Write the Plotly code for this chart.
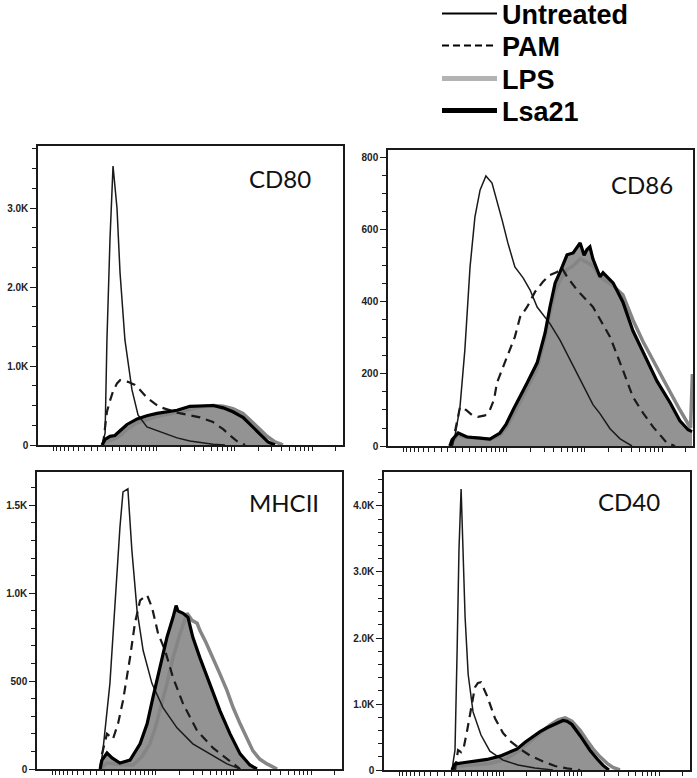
import numpy as np
import plotly.graph_objects as go

# ---------------- data (x in % of the biexponential display scale, y = cell count) -------------
CD80_UNT_X = [21.0, 22.0, 22.6, 23.6, 24.6, 25.9, 26.9, 28.5, 30.8, 32.8, 35.7, 39.0, 42.3, 45.6, 49.8, 53.1, 57.4, 61.3]
CD80_UNT_Y = [0, 150, 1330, 2600, 3530, 3000, 2180, 1330, 700, 380, 230, 180, 130, 90, 50, 30, 10, 0]
CD80_PAM_X = [21.3, 22.0, 22.6, 23.6, 24.6, 25.9, 26.9, 29.5, 31.8, 33.4, 35.7, 38.4, 40.0, 45.6, 49.8, 53.1, 57.4, 60.7, 63.0, 65.2, 67.9]
CD80_PAM_Y = [0, 200, 420, 560, 680, 780, 820, 800, 760, 700, 600, 520, 480, 410, 380, 350, 290, 200, 120, 50, 0]
CD80_LPS_X = [21.0, 22.0, 23.6, 25.2, 26.9, 29.2, 32.5, 35.7, 39.0, 42.3, 45.6, 49.8, 53.1, 57.4, 60.7, 63.9, 67.2, 70.5, 72.8, 75.1, 77.7, 80.3]
CD80_LPS_Y = [0, 40, 60, 80, 120, 200, 280, 320, 360, 390, 410, 450, 480, 500, 490, 460, 400, 280, 190, 110, 40, 0]
CD80_LSA_X = [21.0, 22.0, 23.6, 25.2, 26.9, 29.2, 32.5, 35.7, 39.0, 42.3, 45.6, 49.8, 53.1, 57.4, 60.7, 63.9, 67.2, 69.5, 71.8, 73.8, 75.4, 77.7]
CD80_LSA_Y = [0, 70, 110, 120, 180, 260, 330, 370, 400, 420, 440, 490, 490, 500, 470, 420, 350, 260, 170, 90, 40, 0]

CD86_UNT_X = [21.0, 22.0, 23.6, 25.2, 26.9, 28.5, 30.2, 32.1, 34.1, 35.7, 37.4, 39.3, 41.6, 44.3, 46.6, 48.9, 51.5, 53.1, 56.4, 59.7, 63.0, 67.2, 69.5, 72.8, 76.1, 80.0]
CD86_UNT_Y = [0, 30, 108, 267, 497, 636, 711, 750, 730, 683, 628, 564, 497, 467, 433, 386, 356, 340, 294, 239, 185, 115, 90, 48, 20, 0]
CD86_PAM_X = [21.0, 22.0, 23.6, 25.6, 27.5, 29.5, 31.8, 33.4, 34.8, 35.7, 37.4, 39.0, 41.6, 43.3, 45.6, 48.2, 50.8, 53.1, 55.4, 57.0, 58.7, 62.0, 67.2, 72.8, 77.0, 80.3, 83.6, 86.9, 91.5, 94.1]
CD86_PAM_Y = [0, 40, 108, 100, 86, 81, 85, 100, 130, 175, 215, 247, 303, 358, 386, 428, 456, 475, 483, 495, 470, 433, 386, 303, 211, 136, 92, 53, 8, 0]
CD86_LPS_X = [20.3, 21.0, 23.0, 25.9, 30.2, 33.4, 36.7, 38.7, 41.0, 43.3, 45.6, 48.9, 51.5, 53.1, 54.8, 56.4, 58.7, 60.7, 63.0, 65.2, 67.2, 69.5, 73.8, 77.0, 80.3, 83.6, 88.2, 92.5, 95.7, 98.4, 99.2, 99.8]
CD86_LPS_Y = [0, 10, 30, 24, 21, 18, 30, 50, 85, 125, 160, 215, 300, 370, 430, 460, 490, 500, 520, 510, 500, 470, 445, 420, 350, 290, 215, 150, 100, 60, 50, 200]
CD86_LSA_X = [20.3, 21.0, 23.0, 25.9, 30.2, 33.4, 36.7, 38.7, 41.0, 43.3, 45.6, 48.9, 51.5, 53.1, 54.8, 56.4, 58.7, 60.7, 62.0, 63.0, 64.3, 65.2, 66.2, 67.2, 69.5, 70.5, 73.8, 77.0, 80.3, 83.6, 88.2, 92.5, 95.7, 98.4, 99.7]
CD86_LSA_Y = [0, 17, 36, 25, 22, 19, 36, 60, 100, 140, 175, 231, 314, 386, 453, 483, 531, 536, 550, 564, 530, 545, 553, 519, 470, 481, 453, 400, 320, 260, 180, 120, 70, 45, 40]

MHC_UNT_X = [20.7, 21.6, 23.9, 25.6, 27.2, 28.2, 29.8, 31.1, 32.8, 34.8, 37.7, 41.3, 45.9, 51.1, 56.7, 62.3, 66.6]
MHC_UNT_Y = [0, 103, 486, 960, 1377, 1577, 1594, 1246, 903, 674, 486, 349, 234, 143, 86, 29, 0]
MHC_PAM_X = [20.7, 21.3, 22.95, 24.9, 26.6, 28.2, 30.5, 32.1, 33.8, 36.1, 37.7, 39.7, 42.0, 44.6, 47.9, 52.5, 57.7, 63.3, 66.6]
MHC_PAM_Y = [0, 86, 200, 170, 260, 389, 634, 829, 960, 989, 920, 771, 674, 520, 371, 217, 120, 46, 0]
MHC_LPS_X = [20.7, 22.95, 27.2, 31.5, 34.4, 37.0, 38.7, 40.3, 42.6, 44.6, 46.9, 49.2, 50.8, 52.5, 53.4, 55.4, 57.7, 60.0, 62.3, 64.3, 66.6, 68.9, 70.8, 73.1, 75.4, 78.7]
MHC_LPS_Y = [0, 34, 25, 23, 70, 143, 230, 331, 486, 634, 771, 886, 846, 829, 789, 720, 634, 540, 446, 350, 257, 170, 103, 55, 29, 0]
MHC_LSA_X = [20.7, 21.3, 22.95, 24.6, 27.2, 30.5, 33.8, 36.1, 38.0, 40.3, 42.6, 44.6, 45.6, 46.2, 47.2, 47.9, 49.5, 51.1, 53.4, 56.7, 60.0, 63.3, 66.6, 69.8, 72.1]
MHC_LSA_Y = [0, 51, 91, 63, 34, 51, 143, 257, 406, 577, 749, 863, 930, 900, 890, 886, 863, 749, 634, 486, 331, 200, 86, 23, 0]

CD40_UNT_X = [22.2, 23.2, 23.9, 24.5, 25.2, 25.8, 26.5, 27.5, 29.1, 31.7, 34.6, 38.9, 43.8, 49.3, 55.2]
CD40_UNT_Y = [0, 300, 1818, 3333, 4258, 3333, 2318, 1450, 880, 530, 285, 150, 76, 30, 0]
CD40_PAM_X = [23.2, 24.2, 25.2, 26.1, 27.1, 28.8, 29.7, 30.7, 31.7, 33.7, 36.3, 38.9, 41.2, 44.4, 47.7, 52.0, 55.9, 59.8, 64.1]
CD40_PAM_Y = [0, 300, 270, 350, 580, 1030, 1250, 1320, 1330, 1120, 780, 560, 440, 320, 220, 130, 60, 25, 0]
CD40_LPS_X = [22.2, 24.8, 29.7, 34.6, 37.9, 41.2, 44.4, 47.7, 51.0, 54.2, 56.9, 59.2, 61.4, 64.1, 66.3, 68.3, 70.6, 72.9, 74.8, 77.1]
CD40_LPS_Y = [0, 60, 80, 100, 140, 200, 300, 430, 560, 680, 760, 790, 740, 600, 450, 320, 200, 100, 40, 0]
CD40_LSA_X = [22.2, 23.2, 25.8, 29.7, 33.7, 37.9, 41.2, 43.5, 46.1, 48.4, 51.0, 53.3, 55.9, 58.5, 59.8, 61.4, 64.1, 65.7, 67.3, 69.6, 71.6, 73.5]
CD40_LSA_Y = [0, 90, 110, 130, 160, 210, 270, 320, 420, 500, 580, 640, 700, 750, 740, 690, 520, 400, 300, 170, 70, 0]

MARKERS = ["CD80", "CD86", "MHCII", "CD40"]
SERIES = ["Untreated", "PAM", "LPS", "Lsa21"]
Y_MAX = [3785, 822, 1690, 4515]
Y_TICKS = [[0, 1000, 2000, 3000], [0, 200, 400, 600, 800], [0, 500, 1000, 1500], [0, 1000, 2000, 3000, 4000]]
Y_TICK_TEXT = [["0", "1.0K", "2.0K", "3.0K"], ["0", "200", "400", "600", "800"],
               ["0", "500", "1.0K", "1.5K"], ["0", "1.0K", "2.0K", "3.0K", "4.0K"]]
Y_MINOR = [250, 50, 100, 200]
# biexponential axis tick values (fluorescence intensity)
X_TICK_VALUES = ([-v for v in range(1000, 0, -100)] + [0] + list(range(100, 1000, 100))
                 + list(range(1000, 10000, 1000)) + list(range(10000, 100000, 10000)) + [100000, 200000])

PANEL_DATA = [
    (CD80_UNT_X, CD80_UNT_Y, CD80_PAM_X, CD80_PAM_Y, CD80_LPS_X, CD80_LPS_Y, CD80_LSA_X, CD80_LSA_Y),
    (CD86_UNT_X, CD86_UNT_Y, CD86_PAM_X, CD86_PAM_Y, CD86_LPS_X, CD86_LPS_Y, CD86_LSA_X, CD86_LSA_Y),
    (MHC_UNT_X, MHC_UNT_Y, MHC_PAM_X, MHC_PAM_Y, MHC_LPS_X, MHC_LPS_Y, MHC_LSA_X, MHC_LSA_Y),
    (CD40_UNT_X, CD40_UNT_Y, CD40_PAM_X, CD40_PAM_Y, CD40_LPS_X, CD40_LPS_Y, CD40_LSA_X, CD40_LSA_Y),
]


# biexponential-like display transform (value -> % of axis)
def biex(v):
    zero, lin_end, decade, c = 22.0, 39.0, 25.5, 500.0
    if abs(v) <= 1000:
        return zero + np.sign(v) * (lin_end - zero) * np.arcsinh(abs(v) / c) / np.arcsinh(1000 / c)
    return lin_end + (np.log10(v) - 3) * decade


X_TICK_POS = [float(biex(v)) for v in X_TICK_VALUES]

W, H = 697, 778
# panel boxes in pixels: left, right, top, bottom
BOXES = [(38, 343, 146, 445), (388, 693, 150, 446), (37, 342, 472, 769), (384, 690, 472, 770)]
LABEL_POS = [(313, 178), (675, 185), (321, 502), (662, 501)]
LEGEND_ROWS = [14, 46, 79, 111]

FILL = "#939393"
LPS_COL = "#858585"
INK = "#1a1a1a"

fig = go.Figure()
layout = dict(width=W, height=H, margin=dict(l=0, r=0, t=0, b=0, autoexpand=False),
              paper_bgcolor="white", plot_bgcolor="white", showlegend=True)
annotations = []

for i, (ux, uy, px_, py_, lx, ly, sx, sy) in enumerate(PANEL_DATA):
    n = "" if i == 0 else str(i + 1)
    xa, ya = "x" + n, "y" + n
    common = dict(xaxis=xa, yaxis=ya, mode="lines", showlegend=False, hoverinfo="skip")
    fig.add_trace(go.Scatter(x=sx, y=sy, fill="tozeroy", fillcolor=FILL, line=dict(width=0, color=FILL), **common))
    fig.add_trace(go.Scatter(x=lx, y=ly, line=dict(color=LPS_COL, width=3.5), **common))
    fig.add_trace(go.Scatter(x=ux, y=uy, line=dict(color=INK, width=1.5), **common))
    fig.add_trace(go.Scatter(x=px_, y=py_, line=dict(color=INK, width=2.2, dash="9px,6px"), **common))
    fig.add_trace(go.Scatter(x=sx, y=sy, line=dict(color="black", width=3.2), **common))

    l, r, t, b = BOXES[i]
    layout["xaxis" + n] = dict(domain=[l / W, r / W], range=[0, 100], anchor=ya, automargin=False,
                               showgrid=False, zeroline=False, showline=True, mirror=True,
                               linecolor=INK, linewidth=1.5, ticks="outside", ticklen=4,
                               tickwidth=1, tickcolor=INK, tickmode="array", tickvals=X_TICK_POS,
                               showticklabels=False, fixedrange=True)
    layout["yaxis" + n] = dict(domain=[1 - b / H, 1 - t / H], range=[0, Y_MAX[i]], anchor=xa, automargin=False,
                               showgrid=False, zeroline=False, showline=True, mirror=True,
                               linecolor=INK, linewidth=1.5, ticks="outside", ticklen=6,
                               tickwidth=1.3, tickcolor=INK, tickmode="array",
                               tickvals=Y_TICKS[i], ticktext=Y_TICK_TEXT[i],
                               tickfont=dict(family="Liberation Sans, Arial", size=10, color="#222", weight="bold"),
                               minor=dict(tickmode="linear", tick0=0, dtick=Y_MINOR[i], ticks="outside",
                                          ticklen=4, tickwidth=1, tickcolor=INK),
                               fixedrange=True)
    lx_, ly_ = LABEL_POS[i]
    annotations.append(dict(text=MARKERS[i], xref="paper", yref="paper", x=lx_ / W, y=1 - ly_ / H,
                            xanchor="right", yanchor="middle", showarrow=False,
                            font=dict(family="Lato, Open Sans, sans-serif", size=24, color="#111")))

# legend keys: one legend per entry so each row sits where the reference has it
LEG_STYLE = [dict(color="black", width=2), dict(color="black", width=2, dash="7px,4px"),
             dict(color="#b3b3b3", width=5), dict(color="black", width=5)]
for k, (name, st) in enumerate(zip(SERIES, LEG_STYLE)):
    lg = "legend" if k == 0 else "legend%d" % (k + 1)
    fig.add_trace(go.Scatter(x=[None], y=[None], mode="lines", name=name, line=st, legend=lg,
                             showlegend=True, hoverinfo="skip"))
    layout[lg] = dict(x=437 / W, y=1 - LEGEND_ROWS[k] / H, xanchor="left", yanchor="middle",
                      bgcolor="rgba(0,0,0,0)", borderwidth=0,
                      font=dict(family="Liberation Sans, Arial", size=27, color="black", weight="bold"),
                      itemwidth=55)
layout["annotations"] = annotations
fig.update_layout(**layout)
# remove the browser's default 8px page margin so the figure sits at the window origin
fig.write_html("out.html", config={"displayModeBar": False},
               post_script="document.body.style.margin='0px';")
